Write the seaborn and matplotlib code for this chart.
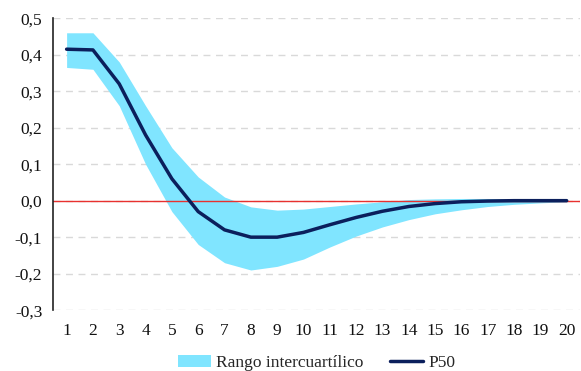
import numpy as np
import pandas as pd
import matplotlib
matplotlib.use('Agg')
import matplotlib.pyplot as plt
import seaborn as sns

periods = list(range(1, 21))
p50 = [0.415, 0.413, 0.32, 0.18, 0.06, -0.03, -0.08, -0.10, -0.10, -0.087,
       -0.066, -0.046, -0.029, -0.016, -0.008, -0.003, -0.001, 0.0, 0.0, 0.0]
upper = [0.46, 0.46, 0.38, 0.26, 0.145, 0.065, 0.01, -0.017, -0.026, -0.023,
         -0.016, -0.009, -0.003, 0.003, 0.005, 0.006, 0.006, 0.005, 0.004, 0.003]
lower = [0.365, 0.36, 0.26, 0.10, -0.03, -0.12, -0.17, -0.19, -0.18, -0.16,
         -0.127, -0.097, -0.072, -0.052, -0.036, -0.025, -0.016, -0.01, -0.006, -0.003]

df = pd.DataFrame({'periodo': periods, 'P50': p50, 'p75': upper, 'p25': lower})

sns.set_style('white')
plt.rcParams['font.family'] = ['Liberation Serif', 'DejaVu Serif']

fig = plt.figure(figsize=(5.81, 3.71), dpi=100)
ax = fig.add_axes([0.092, 0.164, 0.906, 0.787])

ax.fill_between(df['periodo'], df['p25'], df['p75'], color='#80e5ff', lw=0,
                label='Rango intercuartílico')
ax.axhline(0, color='#e8312f', lw=1, zorder=2)
sns.lineplot(data=df, x='periodo', y='P50', ax=ax, color='#0b1f5c', lw=2.5,
             label='P50', zorder=3)

ax.set_xlim(0.5, 20.5)
ax.set_ylim(-0.3, 0.5)
ax.set_xticks(periods)
ax.set_xticklabels([str(p) for p in periods])
yt = np.round(np.arange(-0.3, 0.51, 0.1), 1)
ax.set_yticks(yt)
ax.set_yticklabels([('%.1f' % v).replace('.', ',') for v in yt])
ax.tick_params(axis='both', length=0, labelsize=12.5, colors='#111111')
ax.tick_params(axis='x', pad=9)
ax.tick_params(axis='y', pad=8)
ax.set_xlabel('')
ax.set_ylabel('')
ax.grid(axis='y', color='#d9d9d9', ls=(0, (5, 4)), lw=1)
ax.grid(axis='x', visible=False)
for s in ['top', 'right', 'bottom']:
    ax.spines[s].set_visible(False)
ax.spines['left'].set_color('#222222')
ax.spines['left'].set_linewidth(1.2)

ax.legend(loc='upper center', bbox_to_anchor=(0.5, -0.1), ncol=2, frameon=False,
          fontsize=12.5, handlelength=1.9, handletextpad=0.3, columnspacing=1.5)

fig.savefig('out.png', dpi=100)
